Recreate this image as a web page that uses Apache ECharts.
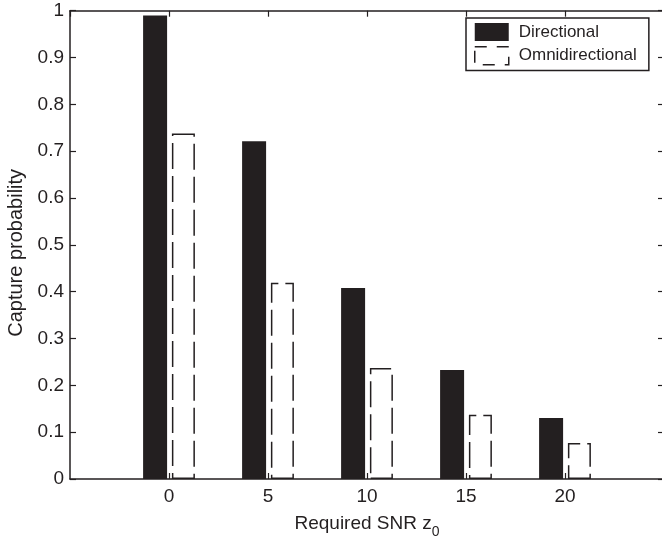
<!DOCTYPE html>
<html>
<head>
<meta charset="utf-8">
<script src="https://cdn.jsdelivr.net/npm/echarts@6/dist/echarts.min.js"></script>
<style>html,body{margin:0;padding:0;background:#fff}#c{width:662px;height:540px}</style>
</head>
<body>
<div id="c"></div>
<script>
const snrValues = [0, 5, 10, 15, 20];
const directional = [0.99, 0.721, 0.408, 0.233, 0.13];
const omnidirectional = [0.738, 0.419, 0.237, 0.137, 0.077];
const seriesNames = ['Directional', 'Omnidirectional'];

const ink = '#231f20';
const font = 'Liberation Sans, Arial, Helvetica, sans-serif';
const chart = echarts.init(document.getElementById('c'), null, {renderer: 'canvas'});

const axisCommon = {
  axisLine: {show: true, onZero: false, lineStyle: {color: ink, width: 1.5}},
  axisTick: {show: true, inside: true, length: 6, lineStyle: {color: ink, width: 1.2}},
  splitLine: {show: false}
};

chart.setOption({
  animation: false,
  backgroundColor: '#fff',
  grid: {left: 70, right: -2, top: 10.7, bottom: 61, containLabel: false, outerBoundsMode: 'none'},
  legend: {
    orient: 'vertical',
    left: 466, top: 18,
    padding: [5, 12, 5, 8],
    itemWidth: 34, itemHeight: 18, itemGap: 5,
    backgroundColor: '#fff',
    borderColor: ink, borderWidth: 1.5,
    textStyle: {fontFamily: font, fontSize: 17, color: ink, padding: [0, 0, 0, 5]},
    data: [
      {name: seriesNames[0], icon: 'rect', itemStyle: {color: ink, borderWidth: 0}},
      {name: seriesNames[1], icon: 'rect', itemStyle: {color: '#fff', borderColor: ink, borderWidth: 1.5, borderType: [12, 10]}}
    ]
  },
  xAxis: [
    Object.assign({}, axisCommon, {
      type: 'value', position: 'bottom', min: -5, max: 25, interval: 5,
      axisLabel: {showMinLabel: false, showMaxLabel: false, margin: 8, fontFamily: font, fontSize: 19, color: ink},
      name: 'Required SNR z{sub|0}', nameLocation: 'middle', nameGap: 30,
      nameTextStyle: {fontFamily: font, fontSize: 19, color: ink,
        rich: {sub: {fontFamily: font, fontSize: 14, color: ink, verticalAlign: 'bottom', padding: [16, 0, 0, 0]}}}
    }),
    Object.assign({}, axisCommon, {
      type: 'value', position: 'top', min: -5, max: 25, interval: 5,
      axisLabel: {show: false}
    })
  ],
  yAxis: [
    Object.assign({}, axisCommon, {
      type: 'value', position: 'left', min: 0, max: 1, interval: 0.1,
      axisLabel: {margin: 6, fontFamily: font, fontSize: 19, color: ink,
        formatter: v => (Math.round(v * 10) / 10).toString()},
      name: 'Capture probability', nameLocation: 'middle', nameGap: 44,
      nameTextStyle: {fontFamily: font, fontSize: 20, color: ink, padding: [0, 16, 0, 0]}
    }),
    Object.assign({}, axisCommon, {
      type: 'value', position: 'right', min: 0, max: 1, interval: 0.1,
      axisLabel: {show: false}
    })
  ],
  series: [
    {
      name: seriesNames[0], type: 'bar', xAxisIndex: 0, yAxisIndex: 0,
      barWidth: 24, barGap: '20%',
      itemStyle: {color: ink},
      data: snrValues.map((x, i) => [x, directional[i]])
    },
    {
      name: seriesNames[1], type: 'bar', xAxisIndex: 0, yAxisIndex: 0,
      barWidth: 23, barGap: '20%',
      itemStyle: {color: '#fff', borderColor: ink, borderWidth: 1.5, borderType: [26, 7]},
      data: snrValues.map((x, i) => [x, omnidirectional[i]])
    }
  ]
});
</script>
</body>
</html>
